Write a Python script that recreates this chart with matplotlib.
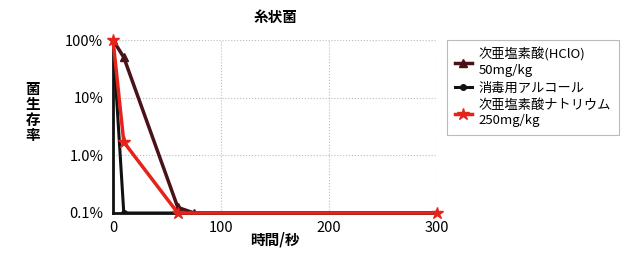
import matplotlib.pyplot as plt
from matplotlib.ticker import FixedLocator, NullLocator

plt.rcParams['font.family'] = ['Noto Sans CJK JP', 'DejaVu Sans']

# survival rate (%) against time in seconds
hclo_time = [0, 10, 60, 75, 300]
hclo_rate = [100, 50, 0.125, 0.1, 0.1]

alcohol_time = [0, 10, 60, 300]
alcohol_rate = [100, 0.1, 0.1, 0.1]

naclo_time = [0, 10, 60, 300]
naclo_rate = [100, 1.7, 0.1, 0.1]

labels = ['次亜塩素酸(HClO)\n50mg/kg', '消毒用アルコール', '次亜塩素酸ナトリウム\n250mg/kg']
x_ticks = [0, 100, 200, 300]
y_ticks = [0.1, 1, 10, 100]
y_tick_labels = ['0.1%', '1.0%', '10%', '100%']

fig = plt.figure(figsize=(6.4, 2.54), dpi=100)
ax = fig.add_axes([113 / 640, 1 - 213 / 254, 324 / 640, 173 / 254])

ax.plot(hclo_time, hclo_rate, color='#4a1218', lw=2.5, marker='^', ms=6,
        label=labels[0], zorder=3)
ax.plot(alcohol_time, alcohol_rate, color='#111111', lw=2.2, marker='o', ms=4,
        label=labels[1], zorder=2)
ax.plot(naclo_time, naclo_rate, color='#e5231b', lw=2.5, marker='*', ms=9,
        label=labels[2], zorder=4, clip_on=False)

ax.set_yscale('log')
ax.set_xlim(0, 300)
ax.set_ylim(0.1, 100)
ax.yaxis.set_major_locator(FixedLocator(y_ticks))
ax.yaxis.set_minor_locator(NullLocator())
ax.set_yticklabels(y_tick_labels)
ax.set_xticks(x_ticks)
ax.tick_params(length=0, labelsize=10.5)
ax.tick_params(axis='y', pad=7)
ax.tick_params(axis='x', pad=6)
ax.grid(True, color='#bbbbbb', ls=':', lw=0.8)

for side in ['top', 'right']:
    ax.spines[side].set_visible(False)
for side in ['left', 'bottom']:
    ax.spines[side].set_linewidth(2)
    ax.spines[side].set_color('#111111')

ax.set_title('糸状菌', fontsize=10.5, fontweight='bold', pad=13)
ax.set_xlabel('時間/秒', fontsize=10.5, fontweight='bold', labelpad=-3)
fig.text(33 / 640, 1 - 112 / 254, '菌\n生\n存\n率', fontsize=10.5, fontweight='bold',
         ha='center', va='center', linespacing=0.95)

leg = ax.legend(loc='upper left', bbox_to_anchor=(1.03, 1.0), fontsize=9.5,
                frameon=True, fancybox=False, edgecolor='#aaaaaa',
                handlelength=1.3, borderpad=0.6, labelspacing=0.35,
                handletextpad=0.5, borderaxespad=0)
leg.get_frame().set_linewidth(0.8)

fig.savefig('out.png', dpi=100)
